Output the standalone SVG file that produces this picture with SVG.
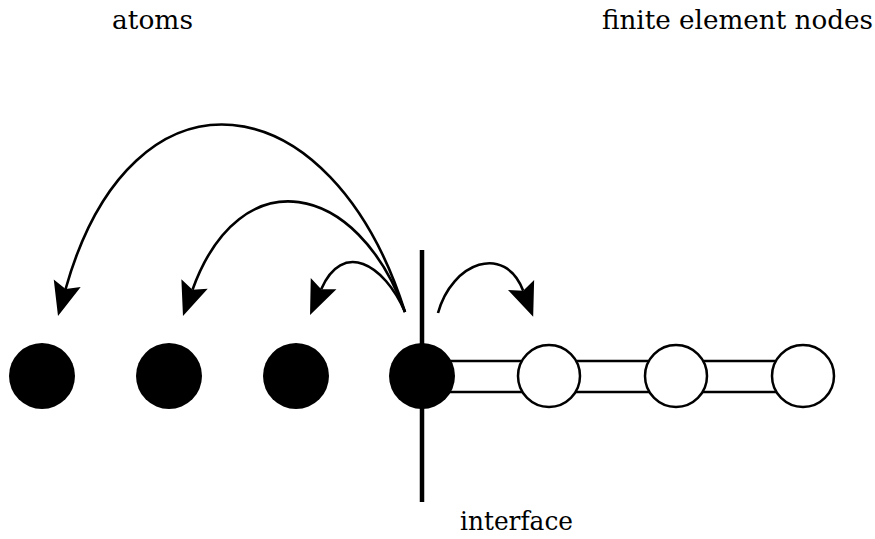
<svg xmlns="http://www.w3.org/2000/svg" width="875" height="539" viewBox="0 0 875 539">
<style>
.lbl{font-size:26.5px;fill:#000}
.atom{fill:#000}
.fe{fill:#fff;stroke:#000;stroke-width:2.5}
.bar{fill:#fff;stroke:#000;stroke-width:2.5}
.arc{fill:none;stroke:#000;stroke-width:2.6}
</style>
<defs>
<marker id="ah" markerUnits="userSpaceOnUse" markerWidth="40" markerHeight="40" viewBox="-10 -20 40 40" refX="0" refY="0" orient="auto" overflow="visible">
<path d="M28,0 L-6,-14 L0,0 L-6,14 Z" fill="#000"/>
</marker>
</defs>
<rect width="875" height="539" fill="#fff"/>
<text class="lbl" font-family="DejaVu Serif, Liberation Serif, serif" x="112" y="29" textLength="81" lengthAdjust="spacingAndGlyphs">atoms</text>
<text class="lbl" font-family="DejaVu Serif, Liberation Serif, serif" x="602" y="29" textLength="271" lengthAdjust="spacingAndGlyphs">finite element nodes</text>
<text class="lbl" font-family="DejaVu Serif, Liberation Serif, serif" x="460" y="530" textLength="113" lengthAdjust="spacingAndGlyphs">interface</text>
<g id="bonds">
<rect class="bar" x="422" y="361" width="127" height="31"/>
<rect class="bar" x="549" y="361" width="127" height="31"/>
<rect class="bar" x="676" y="361" width="127" height="31"/>
</g>
<g id="atom1"><circle class="atom" cx="42" cy="376" r="33"/></g>
<g id="atom2"><circle class="atom" cx="169" cy="376" r="33"/></g>
<g id="atom3"><circle class="atom" cx="296" cy="376" r="33"/></g>
<g id="atom4"><circle class="atom" cx="422" cy="376" r="33"/></g>
<g id="fe1"><circle class="fe" cx="549" cy="376" r="31"/></g>
<g id="fe2"><circle class="fe" cx="676" cy="376" r="31"/></g>
<g id="fe3"><circle class="fe" cx="803" cy="376" r="31"/></g>
<g id="interface"><line x1="422" y1="250" x2="422" y2="502" stroke="#000" stroke-width="4.5"/></g>
<g id="connectors">
<path class="arc" marker-end="url(#ah)" d="M405,312 C331.5,79 131.8,54 65.6,289"/>
<path class="arc" marker-end="url(#ah)" d="M405,312 C357.4,180.4 240.1,158.1 192.5,289.7"/>
<path class="arc" marker-end="url(#ah)" d="M405,312 C383.8,263.2 342.4,240.4 321.2,289.2"/>
<path class="arc" marker-end="url(#ah)" d="M438,313 C452,262 505,243 523.2,290.7"/>
</g>
</svg>
